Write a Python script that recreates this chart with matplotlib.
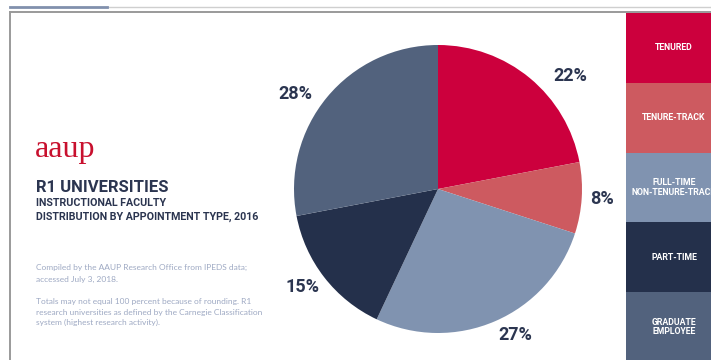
import numpy as np
import matplotlib
matplotlib.use('Agg')
import matplotlib.pyplot as plt
from matplotlib.patches import Rectangle
from matplotlib.lines import Line2D

# faculty shares by appointment type, R1 universities, 2016
categories = ['TENURED', 'TENURE-TRACK', 'FULL-TIME\nNON-TENURE-TRACK',
              'PART-TIME', 'GRADUATE\nEMPLOYEE']
shares = [22, 8, 27, 15, 28]
slice_colors = ['#cc003d', '#cd5a60', '#8093b0', '#24304b', '#52627d']

title = 'R1 UNIVERSITIES'
subtitle = ['INSTRUCTIONAL FACULTY', 'DISTRIBUTION BY APPOINTMENT TYPE, 2016']
notes = ['Compiled by the AAUP Research Office from IPEDS data;',
         'accessed July 3, 2018.',
         'Totals may not equal 100 percent because of rounding. R1',
         'research universities as defined by the Carnegie Classification',
         'system (highest research activity).']

NAVY = '#2b3550'
W, H = 711, 360

fig = plt.figure(figsize=(W / 100, H / 100), dpi=100)
fig.patch.set_facecolor('white')

# page furniture in pixel coordinates
bg = fig.add_axes([0, 0, 1, 1])
bg.set_xlim(0, W)
bg.set_ylim(H, 0)
bg.axis('off')

bg.add_line(Line2D([107, W], [6.8, 6.8], color='#cfcfcf', lw=1))
bg.add_line(Line2D([10, 107], [6.8, 6.8], color='#8190ad', lw=2))
bg.add_line(Line2D([10, W], [12.3, 12.3], color='#9a9a9a', lw=1.4))
bg.add_line(Line2D([10, 10], [12.3, H], color='#9a9a9a', lw=1.4))

# legend column down the right edge
box_top, box_h = 13, 69.8
for i, (cat, col) in enumerate(zip(categories, slice_colors)):
    y0 = box_top + i * box_h
    bg.add_patch(Rectangle((626, y0), 96, box_h, facecolor=col,
                           edgecolor='none'))
    bg.text(674, y0 + box_h / 2, cat, color='white', ha='center',
            va='center', fontsize=6.3, fontweight='bold', family='Roboto',
            linespacing=1.1)

# logo and headings
bg.text(35, 157, 'aaup', color='#c8102e', fontsize=23,
        family='Liberation Serif', va='baseline', ha='left')
bg.text(36, 187, title, color=NAVY, fontsize=12, fontweight='bold',
        family='Roboto', va='center', ha='left')
for txt, y in zip(subtitle, [202.7, 217.3]):
    bg.text(36, y, txt, color=NAVY, fontsize=7.7, fontweight='bold',
            family='Roboto', va='center', ha='left')
for txt, y in zip(notes, [267.3, 279.3, 301.7, 312.3, 322.7]):
    bg.text(36, y, txt, color='#9ea9c3', fontsize=6.0, family='Lato',
            va='center', ha='left')

# the pie itself
cx, cy, r = 438, 189, 144
ax = fig.add_axes([(cx - r) / W, (H - cy - r) / H, 2 * r / W, 2 * r / H])
wedges, _ = ax.pie(shares, colors=slice_colors, startangle=90,
                   counterclock=False, radius=1,
                   wedgeprops=dict(linewidth=0))
ax.set_xlim(-1, 1)
ax.set_ylim(-1, 1)
ax.set_aspect('equal')
ax.axis('off')

# nudge each percentage label off the slice midline a little
label_shift = [-10, 0, 4.6, -1.8, 5.8]
label_dist = [1.21, 1.14, 1.15, 1.16, 1.19]
for w, val, shift, dist in zip(wedges, shares, label_shift, label_dist):
    ang = np.deg2rad((w.theta1 + w.theta2) / 2 + shift)
    ax.text(dist * np.cos(ang), dist * np.sin(ang), f'{val}%', color=NAVY,
            fontsize=13, fontweight='bold', family='Roboto',
            ha='center', va='center')

fig.savefig('out.png', dpi=100, facecolor='white')
